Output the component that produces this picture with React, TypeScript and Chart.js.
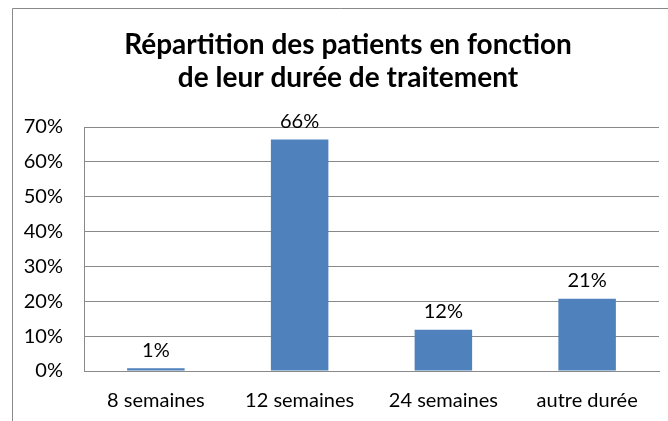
import React, { useEffect, useRef } from "react";
import { Chart, registerables } from "chart.js";

Chart.register(...registerables);

const categories = ["8 semaines", "12 semaines", "24 semaines", "autre durée"];
const values = [0.8, 66.4, 11.8, 20.7];
const valueLabels = ["1%", "66%", "12%", "21%"];
const titleLines = ["Répartition des patients en fonction", "de leur durée de traitement"];

const FONT = "Lato, 'Open Sans', sans-serif";
const GRAY = "#898989";

const framePlugin = {
  id: "frame",
  beforeDraw(chart: any) {
    const ctx = chart.ctx;
    ctx.save();
    ctx.fillStyle = "#ffffff";
    ctx.fillRect(0, 0, chart.width, chart.height);
    ctx.strokeStyle = GRAY;
    ctx.lineWidth = 1;
    ctx.beginPath();
    ctx.moveTo(12.5, chart.height);
    ctx.lineTo(12.5, 8.5);
    ctx.lineTo(chart.width, 8.5);
    ctx.stroke();
    ctx.restore();
  },
};

const titlePlugin = {
  id: "customTitle",
  afterDraw(chart: any) {
    const ctx = chart.ctx;
    ctx.save();
    ctx.font = `bold 28px ${FONT}`;
    ctx.fillStyle = "#000000";
    ctx.textAlign = "center";
    ctx.textBaseline = "alphabetic";
    titleLines.forEach((line, i) => {
      ctx.fillText(line, 348, 54 + i * 33);
    });
    ctx.restore();
  },
};

const labelPlugin = {
  id: "valueLabels",
  afterDatasetsDraw(chart: any) {
    const ctx = chart.ctx;
    const meta = chart.getDatasetMeta(0);
    ctx.save();
    ctx.font = `20px ${FONT}`;
    ctx.fillStyle = "#000000";
    ctx.textAlign = "center";
    ctx.textBaseline = "middle";
    meta.data.forEach((bar: any, i: number) => {
      ctx.fillText(valueLabels[i], bar.x, bar.y - 18);
    });
    ctx.restore();
  },
};

export default function App() {
  const ref = useRef<HTMLCanvasElement | null>(null);
  useEffect(() => {
    if (!ref.current) return;
    const chart = new Chart(ref.current, {
      type: "bar",
      data: {
        labels: categories,
        datasets: [
          {
            data: values,
            backgroundColor: "#4f81bd",
            categoryPercentage: 1,
            barPercentage: 0.4,
          },
        ],
      },
      options: {
        animation: false,
        responsive: false,
        layout: { padding: { left: 0, right: 9, top: 127, bottom: 0 } },
        plugins: {
          legend: { display: false },
          tooltip: { enabled: false },
          title: { display: false },
        },
        scales: {
          x: {
            grid: { display: false, drawTicks: false },
            border: { display: true, color: GRAY },
            ticks: { color: "#000000", font: { family: FONT, size: 20 }, padding: 18, maxRotation: 0 },
            afterFit(scale: any) {
              scale.height = 50;
            },
          },
          y: {
            min: 0,
            max: 70,
            grid: { color: GRAY, drawTicks: false },
            border: { display: true, color: GRAY },
            ticks: {
              stepSize: 10,
              color: "#000000",
              font: { family: FONT, size: 20 },
              padding: 21,
              callback: (v: any) => v + "%",
            },
            afterFit(scale: any) {
              scale.width = 84;
            },
          },
        },
      },
      plugins: [framePlugin, labelPlugin, titlePlugin],
    });
    return () => chart.destroy();
  }, []);
  return (
    <div style={{ position: "fixed", left: 0, top: 0, width: 668, height: 421 }}>
      <canvas ref={ref} width={668} height={421} style={{ display: "block" }} />
    </div>
  );
}
